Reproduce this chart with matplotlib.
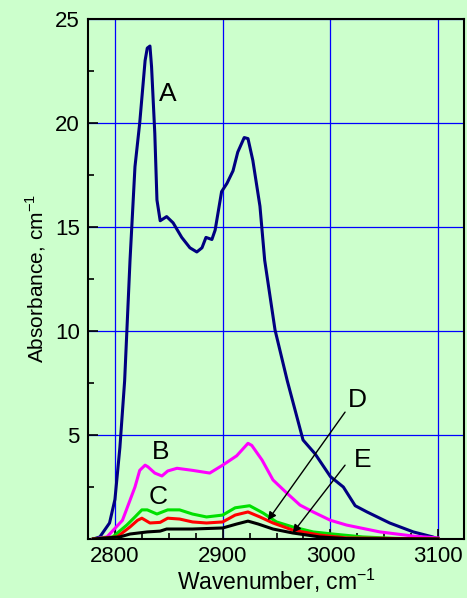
import matplotlib
matplotlib.use("Agg")
from matplotlib import pyplot as plt
from matplotlib.ticker import MultipleLocator

plt.rcParams['font.family'] = ['Liberation Sans', 'DejaVu Sans']
plt.rcParams['mathtext.fontset'] = 'custom'
plt.rcParams['mathtext.rm'] = 'Liberation Sans'

# spectrum A
wn_a = [2780, 2786, 2795, 2800, 2804.6, 2809, 2814, 2818.6, 2823, 2828, 2830, 2832.5,
        2834, 2837, 2839, 2842, 2848, 2854, 2862, 2869.6, 2876, 2880.8, 2884.5, 2890,
        2893, 2899, 2904, 2909.6, 2914, 2920, 2923.5, 2928, 2934.6, 2939, 2948.6, 2960,
        2974.6, 2985.7, 3000, 3012, 3023, 3034, 3055, 3077, 3095, 3100]
abs_a = [0.0, 0.1, 0.77, 1.9, 4.4, 7.6, 13.4, 17.9, 20.0, 23.0, 23.6, 23.7,
         22.7, 19.5, 16.3, 15.3, 15.5, 15.2, 14.5, 14.0, 13.8, 14.0, 14.5, 14.4,
         14.85, 16.7, 17.1, 17.7, 18.6, 19.3, 19.25, 18.2, 16.0, 13.4, 10.05, 7.6,
         4.76, 4.1, 3.0, 2.5, 1.6, 1.3, 0.77, 0.34, 0.1, 0.0]

# spectrum B
wn_b = [2780, 2792.6, 2807, 2818.6, 2823, 2828, 2830.6, 2837, 2843.6, 2849, 2857.6, 2872,
        2888, 2900, 2913, 2923.5, 2927, 2936.5, 2946.7, 2959.7, 2971.8, 2984, 3000, 3015,
        3046, 3077, 3100]
abs_b = [0.0, 0.1, 0.9, 2.5, 3.3, 3.55, 3.47, 3.17, 3.03, 3.27, 3.4, 3.3,
         3.17, 3.55, 4.0, 4.6, 4.5, 3.8, 2.84, 2.2, 1.63, 1.3, 0.9, 0.67,
         0.34, 0.14, 0.05]

# spectrum C
wn_c = [2780, 2798, 2811, 2818.6, 2825, 2830, 2839, 2849, 2860, 2872, 2885, 2900,
        2911.6, 2925, 2937.5, 2950, 2965, 2984, 3002, 3030, 3060, 3100]
abs_c = [0.0, 0.1, 0.67, 1.06, 1.4, 1.4, 1.2, 1.4, 1.4, 1.2, 1.06, 1.15,
         1.5, 1.6, 1.25, 0.82, 0.58, 0.34, 0.24, 0.1, 0.03, 0.0]

# spectrum D
wn_d = [2780, 2802, 2814, 2821, 2825, 2832.5, 2842, 2849, 2860, 2872, 2885, 2900,
        2911.6, 2923.5, 2934.6, 2946.7, 2965, 2990, 3015, 3100]
abs_d = [0.0, 0.1, 0.58, 0.9, 1.0, 0.77, 0.8, 1.0, 0.96, 0.82, 0.77, 0.82,
         1.15, 1.3, 1.06, 0.77, 0.43, 0.19, 0.05, 0.0]

# spectrum E
wn_e = [2780, 2804.6, 2814, 2830, 2842, 2848, 2872, 2900, 2913, 2923.5, 2933, 2946.7,
        2965, 2990, 3015, 3100]
abs_e = [0.0, 0.1, 0.24, 0.34, 0.38, 0.48, 0.48, 0.53, 0.72, 0.86, 0.72, 0.48,
         0.29, 0.1, 0.02, 0.0]

bg = "#ccffcc"
fig = plt.figure(figsize=(4.67, 5.98), dpi=100, facecolor=bg)
ax = fig.add_axes([88 / 467, 1 - 539 / 598, 376 / 467, 520 / 598])
ax.set_facecolor(bg)

ax.plot(wn_a, abs_a, color="#000080", lw=2.2, zorder=3)
ax.plot(wn_b, abs_b, color="#ff00ff", lw=2.2, zorder=3)
ax.plot(wn_c, abs_c, color="#00e000", lw=2.2, zorder=3)
ax.plot(wn_d, abs_d, color="#ff0000", lw=2.2, zorder=4)
ax.plot(wn_e, abs_e, color="#000000", lw=2.2, zorder=5)

ax.set_xlim(2775, 3124)
ax.set_ylim(0, 25)
ax.xaxis.set_major_locator(MultipleLocator(100))
ax.xaxis.set_minor_locator(MultipleLocator(25))
ax.yaxis.set_minor_locator(MultipleLocator(2.5))
ax.set_yticks([5, 10, 15, 20, 25])
ax.grid(True, which="major", color="#0000ff", lw=0.9, zorder=1)
ax.set_axisbelow(True)
ax.tick_params(which="major", direction="in", length=7, width=1.2, labelsize=16, pad=6)
ax.tick_params(axis="x", which="major", pad=5)
ax.tick_params(which="minor", direction="in", length=4, width=1.2)
for s in ax.spines.values():
    s.set_linewidth(1.5)

ax.set_xlabel("Wavenumber, cm$^{\\mathregular{-1}}$", fontsize=16.5, labelpad=0)
ax.set_ylabel("Absorbance, cm$^{\\mathregular{-1}}$", fontsize=15, labelpad=5)

ax.text(2849, 21.4, "A", fontsize=19, ha="center", va="center")
ax.text(2842, 4.2, "B", fontsize=19, ha="center", va="center")
ax.text(2840, 2.0, "C", fontsize=19, ha="center", va="center")
ax.text(3025, 6.7, "D", fontsize=19, ha="center", va="center")
ax.text(3030, 3.8, "E", fontsize=19, ha="center", va="center")

arrow = dict(arrowstyle="-|>", color="black", lw=1.0, mutation_scale=12, shrinkA=0, shrinkB=0)
ax.annotate("", xy=(2942, 0.9), xytext=(3013.6, 6.1), arrowprops=arrow, zorder=6)
ax.annotate("", xy=(2965, 0.29), xytext=(3013.6, 3.55), arrowprops=arrow, zorder=6)

fig.savefig("out.png", dpi=100, facecolor=bg)
